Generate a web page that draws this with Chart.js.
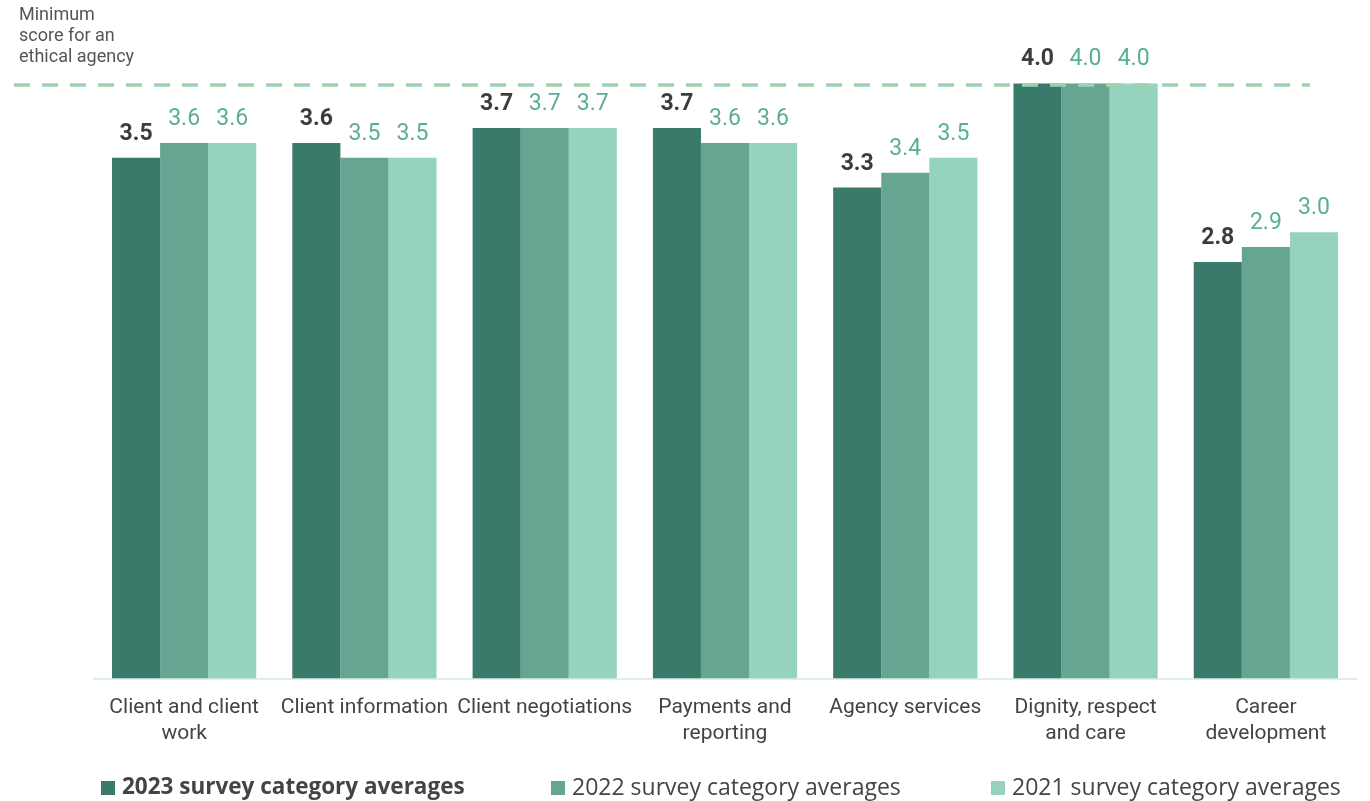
<!DOCTYPE html>
<html>
<head>
<meta charset="utf-8">
<script src="https://cdn.jsdelivr.net/npm/chart.js@4"></script>
<style>
  html, body { margin: 0; padding: 0; background: #fff; }
  #wrap { width: 1370px; height: 801px; }
</style>
</head>
<body>
<div id="wrap"><canvas id="scores"></canvas></div>
<script>
const categories = [
  ['Client and client', 'work'],
  'Client information',
  'Client negotiations',
  ['Payments and', 'reporting'],
  'Agency services',
  ['Dignity, respect', 'and care'],
  ['Career', 'development']
];
const scores2023 = [3.5, 3.6, 3.7, 3.7, 3.3, 4.0, 2.8];
const scores2022 = [3.6, 3.5, 3.7, 3.6, 3.4, 4.0, 2.9];
const scores2021 = [3.6, 3.5, 3.7, 3.6, 3.5, 4.0, 3.0];
const seriesNames = ['2023 survey category averages', '2022 survey category averages', '2021 survey category averages'];
const seriesColors = ['#3a7a6a', '#65a592', '#95d3be'];
const minimumScore = 4.0;
const noteLines = ['Minimum', 'score for an', 'ethical agency'];

const valueLabels = {
  id: 'valueLabels',
  afterDatasetsDraw(chart) {
    const ctx = chart.ctx;
    ctx.save();
    ctx.textAlign = 'center';
    ctx.textBaseline = 'alphabetic';
    chart.data.datasets.forEach((ds, i) => {
      const meta = chart.getDatasetMeta(i);
      ctx.font = (i === 0 ? 'bold ' : '') + '23px Roboto';
      ctx.fillStyle = i === 0 ? '#3d3d3d' : '#5aae98';
      meta.data.forEach((bar, j) => {
        ctx.fillText(ds.data[j].toFixed(1), bar.x, bar.y - 18);
      });
    });
    ctx.restore();
  }
};

const thresholdLine = {
  id: 'thresholdLine',
  afterDatasetsDraw(chart) {
    const ctx = chart.ctx;
    const area = chart.chartArea;
    const y = chart.scales.y.getPixelForValue(minimumScore) + 1.5;
    ctx.save();
    ctx.strokeStyle = '#9dd3ad';
    ctx.lineWidth = 3.5;
    ctx.setLineDash([16, 12]);
    ctx.beginPath();
    ctx.moveTo(14, y);
    ctx.lineTo(area.right - 46, y);
    ctx.stroke();
    ctx.restore();
  }
};

const extras = {
  id: 'extras',
  afterDraw(chart) {
    const ctx = chart.ctx;
    ctx.save();
    // note above the threshold line
    ctx.font = '18px Roboto';
    ctx.fillStyle = '#555';
    ctx.textBaseline = 'middle';
    ctx.textAlign = 'left';
    noteLines.forEach((t, i) => ctx.fillText(t, 19, 15 + i * 21));

    // legend row
    const starts = [101, 551, 991];
    const y = 788;
    seriesNames.forEach((name, i) => {
      ctx.fillStyle = seriesColors[i];
      ctx.fillRect(starts[i], y - 7, 14, 14);
      ctx.fillStyle = '#444';
      ctx.font = i === 0 ? 'bold 22.5px "Open Sans"' : '23px "Open Sans"';
      ctx.fillText(name, starts[i] + 21, y);
    });
    ctx.restore();
  }
};

new Chart(document.getElementById('scores'), {
  type: 'bar',
  data: {
    labels: categories,
    datasets: [
      { label: seriesNames[0], data: scores2023, backgroundColor: seriesColors[0] },
      { label: seriesNames[1], data: scores2022, backgroundColor: seriesColors[1] },
      { label: seriesNames[2], data: scores2021, backgroundColor: seriesColors[2] }
    ]
  },
  options: {
    responsive: true,
    maintainAspectRatio: false,
    animation: false,
    layout: { padding: { left: 94, right: 14, top: 9, bottom: 38 } },
    datasets: { bar: { categoryPercentage: 0.8, barPercentage: 1.0 } },
    plugins: {
      legend: { display: false },
      tooltip: { enabled: false }
    },
    scales: {
      x: {
        grid: { display: false, drawTicks: false },
        border: { display: true, color: '#dcefe8', width: 2 },
        ticks: {
          color: '#444',
          font: { family: 'Roboto', size: 21, lineHeight: 1.2 },
          padding: 17,
          maxRotation: 0,
          autoSkip: false
        }
      },
      y: { display: false, min: 0, max: 4.5 }
    }
  },
  plugins: [valueLabels, thresholdLine, extras]
});
</script>
</body>
</html>
